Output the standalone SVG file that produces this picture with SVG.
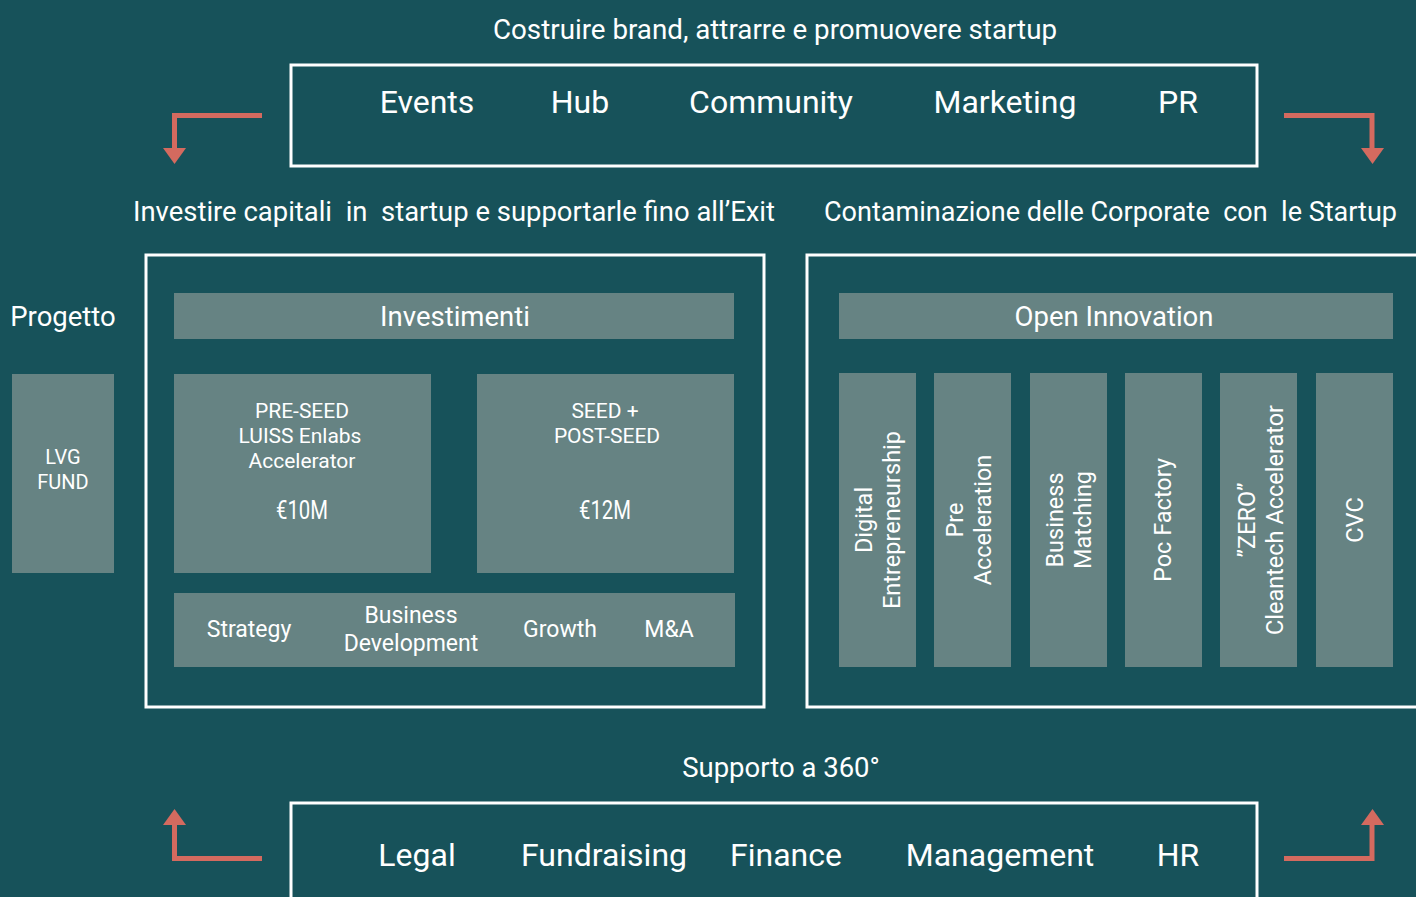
<svg xmlns="http://www.w3.org/2000/svg" width="1416" height="897" viewBox="0 0 1416 897">
<style>
.t{font-family:Roboto,"Liberation Sans",sans-serif;fill:#ffffff;}
.h{font-size:27.5px;}
.big{font-size:32px;}
.sm{font-size:21px;}
.md{font-size:23px;}
.vt{font-size:23.5px;}
.amt{font-size:26px;}
.frame{fill:none;stroke:#ffffff;stroke-width:3;}
.box{fill:#668383;}
.arr{fill:none;stroke:#D46A5F;stroke-width:5;}
.head{fill:#D46A5F;}
</style>
<rect x="0" y="0" width="1416" height="897" fill="#17525A"/>

<g id="top-title"><text class="t h" x="775" y="39" text-anchor="middle" textLength="564" lengthAdjust="spacingAndGlyphs">Costruire brand, attrarre e promuovere startup</text></g>

<g id="top-box">
<rect class="frame" x="291" y="65" width="966" height="101"/>
<text class="t big" x="427" y="113" text-anchor="middle">Events</text>
<text class="t big" x="580" y="113" text-anchor="middle">Hub</text>
<text class="t big" x="771" y="113" text-anchor="middle">Community</text>
<text class="t big" x="1005" y="113" text-anchor="middle">Marketing</text>
<text class="t big" x="1178" y="113" text-anchor="middle">PR</text>
</g>

<g id="left-heading"><text class="t h" x="133" y="221" textLength="642" lengthAdjust="spacingAndGlyphs" xml:space="preserve">Investire capitali  in  startup e supportarle fino all’Exit</text></g>
<g id="right-heading"><text class="t h" x="824" y="221" textLength="573" lengthAdjust="spacingAndGlyphs" xml:space="preserve">Contaminazione delle Corporate  con  le Startup</text></g>

<g id="progetto">
<text class="t h" x="63" y="326" text-anchor="middle">Progetto</text>
</g>
<g id="lvg-fund">
<rect class="box" x="12" y="374" width="102" height="199"/>
<text class="t" style="font-size:20px" x="63" y="464" text-anchor="middle">LVG</text>
<text class="t" style="font-size:20px" x="63" y="489" text-anchor="middle">FUND</text>
</g>

<g id="investimenti-frame">
<rect class="frame" x="146" y="255" width="618" height="452"/>
</g>
<g id="investimenti">
<rect class="box" x="174" y="293" width="560" height="46"/>
<text class="t h" x="455" y="326" text-anchor="middle">Investimenti</text>
</g>
<g id="pre-seed">
<rect class="box" x="174" y="374" width="257" height="199"/>
<text class="t sm" x="302" y="418" text-anchor="middle">PRE-SEED</text>
<text class="t sm" x="300" y="443" text-anchor="middle">LUISS Enlabs</text>
<text class="t sm" x="302" y="468" text-anchor="middle">Accelerator</text>
<text class="t amt" x="302" y="519" text-anchor="middle" textLength="52" lengthAdjust="spacingAndGlyphs">€10M</text>
</g>
<g id="seed">
<rect class="box" x="477" y="374" width="257" height="199"/>
<text class="t sm" x="605" y="418" text-anchor="middle">SEED +</text>
<text class="t sm" x="607" y="443" text-anchor="middle">POST-SEED</text>
<text class="t amt" x="605" y="519" text-anchor="middle" textLength="52" lengthAdjust="spacingAndGlyphs">€12M</text>
</g>
<g id="services-bar">
<rect class="box" x="174" y="593" width="561" height="74"/>
<text class="t md" x="249" y="637" text-anchor="middle">Strategy</text>
<text class="t md" x="411" y="623" text-anchor="middle">Business</text>
<text class="t md" x="411" y="651" text-anchor="middle">Development</text>
<text class="t md" x="560" y="637" text-anchor="middle">Growth</text>
<text class="t md" x="669" y="637" text-anchor="middle">M&amp;A</text>
</g>

<g id="open-innovation-frame">
<rect class="frame" x="807" y="255" width="620" height="452"/>
</g>
<g id="open-innovation">
<rect class="box" x="839" y="293" width="554" height="46"/>
<text class="t h" x="1114" y="326" text-anchor="middle">Open Innovation</text>
</g>
<g id="digital">
<rect class="box" x="839" y="373" width="77" height="294"/>
<text class="t vt" transform="translate(872,520) rotate(-90)" text-anchor="middle">Digital</text>
<text class="t vt" transform="translate(900,520) rotate(-90)" text-anchor="middle">Entrepreneurship</text>
</g>
<g id="pre-acceleration">
<rect class="box" x="934" y="373" width="77" height="294"/>
<text class="t vt" transform="translate(963,520) rotate(-90)" text-anchor="middle">Pre</text>
<text class="t vt" transform="translate(991,520) rotate(-90)" text-anchor="middle">Acceleration</text>
</g>
<g id="business-matching">
<rect class="box" x="1030" y="373" width="77" height="294"/>
<text class="t vt" transform="translate(1063,520) rotate(-90)" text-anchor="middle">Business</text>
<text class="t vt" transform="translate(1091,520) rotate(-90)" text-anchor="middle">Matching</text>
</g>
<g id="poc-factory">
<rect class="box" x="1125" y="373" width="77" height="294"/>
<text class="t vt" transform="translate(1171,520) rotate(-90)" text-anchor="middle">Poc Factory</text>
</g>
<g id="zero-cleantech">
<rect class="box" x="1220" y="373" width="77" height="294"/>
<text class="t vt" transform="translate(1255,520) rotate(-90)" text-anchor="middle">”ZERO”</text>
<text class="t vt" transform="translate(1283,520) rotate(-90)" text-anchor="middle">Cleantech Accelerator</text>
</g>
<g id="cvc">
<rect class="box" x="1316" y="373" width="77" height="294"/>
<text class="t vt" transform="translate(1363,520) rotate(-90)" text-anchor="middle">CVC</text>
</g>

<g id="bottom-title"><text class="t h" x="781" y="777" text-anchor="middle">Supporto a 360°</text></g>
<g id="bottom-box">
<rect class="frame" x="291" y="803" width="966" height="110"/>
<text class="t big" x="417" y="866" text-anchor="middle">Legal</text>
<text class="t big" x="604" y="866" text-anchor="middle">Fundraising</text>
<text class="t big" x="786" y="866" text-anchor="middle">Finance</text>
<text class="t big" x="1000" y="866" text-anchor="middle">Management</text>
<text class="t big" x="1178" y="866" text-anchor="middle">HR</text>
</g>

<g id="connectors">
<polyline class="arr" points="262,115.5 174.5,115.5 174.5,150"/>
<polygon class="head" points="163,148 186,148 174.5,164"/>
<polyline class="arr" points="1284,115.5 1372,115.5 1372,150"/>
<polygon class="head" points="1361,148 1384,148 1372.5,164"/>
<polyline class="arr" points="262,858.5 174.5,858.5 174.5,823"/>
<polygon class="head" points="163,825 186,825 174.5,809"/>
<polyline class="arr" points="1284,858.5 1372,858.5 1372,823"/>
<polygon class="head" points="1361,825 1384,825 1372.5,809"/>
</g>
</svg>
